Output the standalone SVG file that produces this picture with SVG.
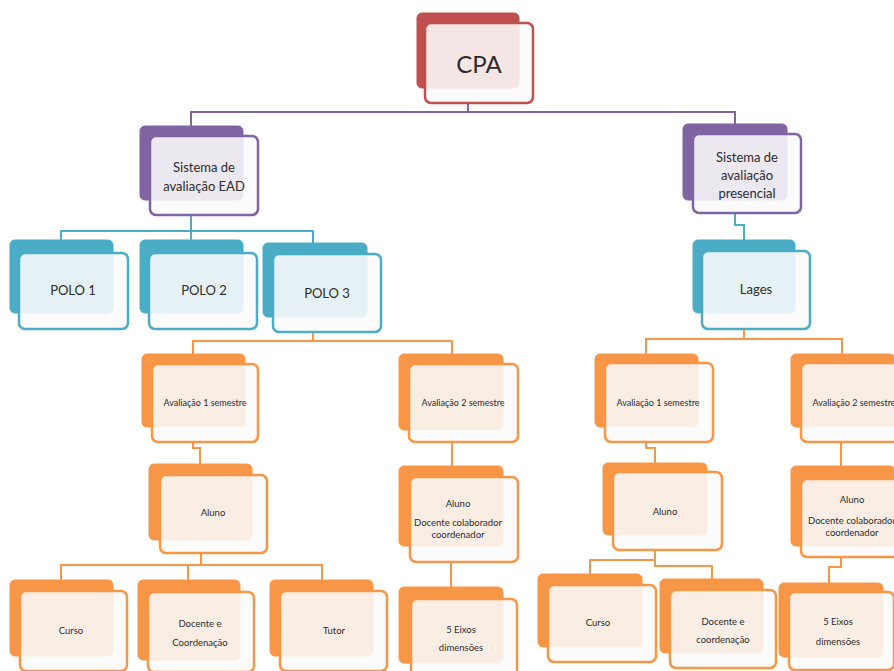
<svg xmlns="http://www.w3.org/2000/svg" width="894" height="671" viewBox="0 0 894 671">
<style>
.bk{stroke-width:1}
.fr{fill:#fafafa;fill-opacity:0.88;stroke-width:2.5}
.red .bk{fill:#C0504D;stroke:#C0504D}.red .fr{stroke:#C0504D}
.pur .bk{fill:#8064A2;stroke:#8064A2}.pur .fr{stroke:#8064A2}
.tea .bk{fill:#4BACC6;stroke:#4BACC6}.tea .fr{stroke:#4BACC6}
.ora .bk{fill:#F79646;stroke:#F79646}.ora .fr{stroke:#F79646}
text{font-family:Lato,"Open Sans","Liberation Sans",sans-serif;fill:#2b2b2b;text-anchor:middle}
.t24{font-size:24px}.t13{font-size:13px}.t9{font-size:9px}.t95{font-size:9.5px}
.c{fill:none;stroke-width:2}
.cp{stroke:#8064A2}.ct{stroke:#4BACC6}.co{stroke:#F79646}
</style>
<g id="connectors">
<path class="c cp" d="M468,103 V112 M191,126 V112 H735 V124"/>
<path class="c ct" d="M191,215 V240 M61,240 V231 H313 V243"/>
<path class="c ct" d="M735,213 V225 H744 V240"/>
<path class="c co" d="M313,332 V341 M193,354 V341 H452 V354"/>
<path class="c co" d="M744,329 V339 M646,354 V339 H842 V354"/>
<path class="c co" d="M193,442 V448 H200 V464"/>
<path class="c co" d="M452,442 V466"/>
<path class="c co" d="M646,442 V448 H655 V463"/>
<path class="c co" d="M841,442 V466"/>
<path class="c co" d="M201,553 V565 M61,580 V565 H322 V580 M188,565 V580"/>
<path class="c co" d="M451,562 V587"/>
<path class="c co" d="M655,550 V560 H590 V574 M655,560 V566 H712 V579"/>
<path class="c co" d="M841,557 V567 H829 V583"/>
</g>
<g id="cpa" class="red"><rect class="bk" x="417" y="13" width="102" height="75" rx="5"/><rect class="fr" x="425" y="23" width="108" height="80" rx="6"/><text class="t24" x="479" y="73">CPA</text></g>
<g id="sis-ead" class="pur"><rect class="bk" x="140" y="126" width="103" height="74" rx="5"/><rect class="fr" x="150" y="136" width="108" height="79" rx="6"/><text class="t13" x="204" y="172">Sistema de</text><text class="t13" x="204" y="191">avaliação EAD</text></g>
<g id="sis-pres" class="pur"><rect class="bk" x="683" y="124" width="104" height="76" rx="5"/><rect class="fr" x="693" y="134" width="108" height="79" rx="6"/><text class="t13" x="747" y="162">Sistema de</text><text class="t13" x="747" y="180">avaliação</text><text class="t13" x="747" y="198">presencial</text></g>
<g id="polo1" class="tea"><rect class="bk" x="10" y="240" width="103" height="73" rx="5"/><rect class="fr" x="19" y="253" width="109" height="76" rx="6"/><text class="t13" x="73" y="295">POLO 1</text></g>
<g id="polo2" class="tea"><rect class="bk" x="140" y="240" width="103" height="73" rx="5"/><rect class="fr" x="149" y="253" width="108" height="76" rx="6"/><text class="t13" x="204" y="295">POLO 2</text></g>
<g id="polo3" class="tea"><rect class="bk" x="263" y="243" width="104" height="74" rx="5"/><rect class="fr" x="273" y="254" width="108" height="78" rx="6"/><text class="t13" x="327" y="298">POLO 3</text></g>
<g id="lages" class="tea"><rect class="bk" x="693" y="240" width="102" height="73" rx="5"/><rect class="fr" x="702" y="251" width="108" height="78" rx="6"/><text class="t13" x="756" y="294">Lages</text></g>
<g id="av1-l" class="ora"><rect class="bk" x="142" y="354" width="103" height="73" rx="5"/><rect class="fr" x="152" y="364" width="106" height="78" rx="6"/><text class="t9" x="205" y="406">Avaliação 1 semestre</text></g>
<g id="av2-l" class="ora"><rect class="bk" x="399" y="354" width="104" height="76" rx="5"/><rect class="fr" x="409" y="364" width="109" height="78" rx="6"/><text class="t9" x="463" y="406">Avaliação 2 semestre</text></g>
<g id="av1-r" class="ora"><rect class="bk" x="595" y="354" width="103" height="73" rx="5"/><rect class="fr" x="605" y="363" width="108" height="79" rx="6"/><text class="t9" x="658" y="406">Avaliação 1 semestre</text></g>
<g id="av2-r" class="ora"><rect class="bk" x="791" y="354" width="104" height="73" rx="5"/><rect class="fr" x="801" y="363" width="108" height="79" rx="6"/><text class="t9" x="854" y="406">Avaliação 2 semestre</text></g>
<g id="aluno-l" class="ora"><rect class="bk" x="149" y="464" width="103" height="76" rx="5"/><rect class="fr" x="160" y="475" width="107" height="78" rx="6"/><text class="t95" x="213" y="516">Aluno</text></g>
<g id="alunodoc-l" class="ora"><rect class="bk" x="399" y="466" width="104" height="80" rx="5"/><rect class="fr" x="410" y="477" width="108" height="85" rx="6"/><text class="t95" x="458" y="507">Aluno</text><text class="t95" x="458" y="526">Docente colaborador</text><text class="t95" x="458" y="538">coordenador</text></g>
<g id="aluno-r" class="ora"><rect class="bk" x="603" y="463" width="104" height="72" rx="5"/><rect class="fr" x="613" y="472" width="109" height="78" rx="6"/><text class="t95" x="665" y="515">Aluno</text></g>
<g id="alunodoc-r" class="ora"><rect class="bk" x="791" y="466" width="104" height="80" rx="5"/><rect class="fr" x="801" y="479" width="108" height="78" rx="6"/><text class="t95" x="852" y="503">Aluno</text><text class="t95" x="852" y="524">Docente colaborador</text><text class="t95" x="852" y="536">coordenador</text></g>
<g id="curso-l" class="ora"><rect class="bk" x="10" y="580" width="103" height="76" rx="5"/><rect class="fr" x="20" y="591" width="107" height="80" rx="6"/><text class="t95" x="71" y="634">Curso</text></g>
<g id="doc-l" class="ora"><rect class="bk" x="138" y="580" width="102" height="80" rx="5"/><rect class="fr" x="148" y="592" width="106" height="80" rx="6"/><text class="t95" x="200" y="627">Docente e</text><text class="t95" x="200" y="646">Coordenação</text></g>
<g id="tutor" class="ora"><rect class="bk" x="270" y="580" width="103" height="76" rx="5"/><rect class="fr" x="280" y="591" width="107" height="80" rx="6"/><text class="t95" x="334" y="634">Tutor</text></g>
<g id="eixos-l" class="ora"><rect class="bk" x="399" y="587" width="104" height="76" rx="5"/><rect class="fr" x="411" y="599" width="106" height="80" rx="6"/><text class="t95" x="461" y="633">5 Eixos</text><text class="t95" x="461" y="651">dimensões</text></g>
<g id="curso-r" class="ora"><rect class="bk" x="538" y="574" width="104" height="73" rx="5"/><rect class="fr" x="548" y="585" width="108" height="77" rx="6"/><text class="t95" x="598" y="626">Curso</text></g>
<g id="doc-r" class="ora"><rect class="bk" x="660" y="579" width="103" height="74" rx="5"/><rect class="fr" x="670" y="590" width="106" height="78" rx="6"/><text class="t95" x="723" y="625">Docente e</text><text class="t95" x="723" y="643">coordenação</text></g>
<g id="eixos-r" class="ora"><rect class="bk" x="779" y="583" width="104" height="74" rx="5"/><rect class="fr" x="789" y="592" width="105" height="78" rx="6"/><text class="t95" x="838" y="625">5 Eixos</text><text class="t95" x="838" y="645">dimensões</text></g>
</svg>
